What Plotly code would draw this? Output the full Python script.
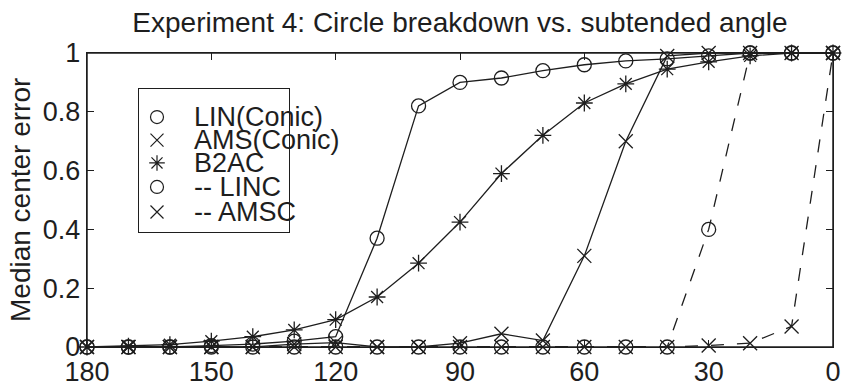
import plotly.graph_objects as go

# Subtended angle (degrees) at which each fit was evaluated
angles = [180, 170, 160, 150, 140, 130, 120, 110, 100, 90, 80, 70, 60, 50, 40, 30, 20, 10, 0]

# Median center error for each method
lin_conic = [0.0, 0.0, 0.0, 0.005, 0.01, 0.02, 0.035, 0.37, 0.82, 0.90, 0.915, 0.94, 0.96, 0.973, 0.98, 0.99, 1.0, 1.0, 1.0]
ams_conic = [0.0, 0.0, 0.0, 0.0, 0.0, 0.01, 0.015, 0.0, 0.0, 0.013, 0.045, 0.022, 0.31, 0.70, 0.99, 1.0, 1.0, 1.0, 1.0]
b2ac = [0.0, 0.003, 0.008, 0.02, 0.035, 0.058, 0.093, 0.17, 0.285, 0.425, 0.59, 0.72, 0.83, 0.895, 0.945, 0.97, 0.99, 1.0, 1.0]
linc = [0.0, 0.0, 0.0, 0.0, 0.0, 0.0, 0.0, 0.0, 0.0, 0.0, 0.0, 0.0, 0.0, 0.0, 0.0, 0.40, 1.0, 1.0, 1.0]
amsc = [0.0, 0.0, 0.0, 0.0, 0.0, 0.0, 0.0, 0.0, 0.0, 0.0, 0.0, 0.0, 0.0, 0.0, 0.0, 0.005, 0.013, 0.07, 1.0]

x_ticks = [180, 150, 120, 90, 60, 30, 0]
y_ticks = [0, 0.2, 0.4, 0.6, 0.8, 1]
y_tick_text = ["0", "0.2", "0.4", "0.6", "0.8", "1"]

legend_labels = ["LIN(Conic)", "AMS(Conic)", "B2AC", "-- LINC", "-- AMSC"]

INK = "#1e1e1e"
FONT = "Liberation Sans, Arial, Helvetica, sans-serif"

series = [
    (lin_conic, "circle-open", "solid"),
    (ams_conic, "x-thin-open", "solid"),
    (b2ac, "asterisk-open", "solid"),
    (linc, "circle-open", "13px,13px"),
    (amsc, "x-thin-open", "13px,13px"),
]

fig = go.Figure()
for values, symbol, dash in series:
    fig.add_trace(go.Scatter(
        x=angles, y=values, mode="lines+markers",
        line=dict(color=INK, width=1.3, dash=dash),
        marker=dict(symbol=symbol, size=14, color=INK, line=dict(color=INK, width=1.3)),
        showlegend=False, cliponaxis=False,
    ))

# Boxed key drawn on a small inset axis
legend_rows = [0.804, 0.643, 0.483, 0.315, 0.140]
for (values, symbol, dash), label, row in zip(series, legend_labels, legend_rows):
    fig.add_trace(go.Scatter(
        x=[0.12], y=[row], mode="markers", xaxis="x2", yaxis="y2",
        marker=dict(symbol=symbol, size=13, color=INK, line=dict(color=INK, width=1.2)),
        showlegend=False, hoverinfo="skip",
    ))
    fig.add_annotation(
        x=0.35, y=row, xref="x2", yref="y2", text=label, showarrow=False,
        xanchor="left", yanchor="middle", font=dict(size=27, color=INK, family=FONT),
    )

axis_common = dict(
    showline=True, linecolor=INK, linewidth=1.4, mirror="ticks",
    ticks="inside", ticklen=7, tickcolor=INK, tickwidth=1.2,
    showgrid=False, zeroline=False, automargin=False, ticklabeloverflow="allow",
    tickfont=dict(size=27, color=INK, family=FONT),
)

fig.update_layout(
    width=843, height=385,
    margin=dict(l=87, r=10, t=53, b=38),
    paper_bgcolor="white", plot_bgcolor="white",
    font=dict(family=FONT, color=INK),
    title=dict(
        text="Experiment 4: Circle breakdown vs. subtended angle",
        x=(87 + 833) / 2 / 843, xanchor="center", y=1 - 22 / 385, yanchor="middle",
        font=dict(size=28, color=INK, family=FONT),
    ),
    xaxis=dict(range=[180, 0], tickvals=x_ticks, ticktext=[str(v) for v in x_ticks], **axis_common),
    yaxis=dict(range=[0, 1], tickvals=y_ticks, ticktext=y_tick_text, **axis_common),
    xaxis2=dict(domain=[52 / 746, 202 / 746], range=[0, 1], anchor="y2",
                showline=True, mirror=True, linecolor=INK, linewidth=1.2,
                showticklabels=False, ticks="", showgrid=False, zeroline=False, fixedrange=True),
    yaxis2=dict(domain=[115 / 294, 258 / 294], range=[0, 1], anchor="x2",
                showline=True, mirror=True, linecolor=INK, linewidth=1.2,
                showticklabels=False, ticks="", showgrid=False, zeroline=False, fixedrange=True),
    showlegend=False,
)

# Full frame around the plotting area
fig.add_shape(type="rect", xref="paper", yref="paper", x0=0, x1=1, y0=0, y1=1,
              line=dict(color=INK, width=1.5), layer="above")

fig.add_annotation(
    x=(20 - 87) / 746, y=0.5, xref="paper", yref="paper",
    text="Median center error", textangle=-90, showarrow=False,
    xanchor="center", yanchor="middle", font=dict(size=28, color=INK, family=FONT),
)

fig.write_html("out.html")
